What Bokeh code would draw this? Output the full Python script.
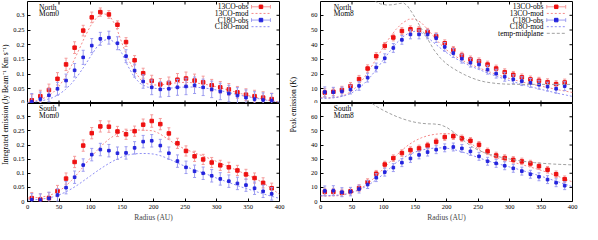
import math
from bokeh.plotting import figure
from bokeh.models import Range1d, LinearAxis, FixedTicker, CustomJSTickFormatter, Label
from bokeh.layouts import row, column
from bokeh.embed import file_html
from bokeh.resources import INLINE

FONT = "Liberation Serif"

# ---------------- data ----------------
radius = [6.8, 20.4, 34.0, 47.6, 61.2, 74.8, 88.4, 102.0, 115.6, 129.2, 142.8, 156.4, 170.0,
          183.6, 197.2, 210.8, 224.4, 238.0, 251.6, 265.2, 278.8, 292.4, 306.0, 319.6, 333.2,
          346.8, 360.4, 374.0, 387.6]

# North, Mom0
n0_13co = [0.011, 0.025, 0.046, 0.084, 0.133, 0.190, 0.248, 0.293, 0.311, 0.303, 0.268, 0.209, 0.147,
           0.103, 0.077, 0.065, 0.070, 0.081, 0.085, 0.078, 0.072, 0.062, 0.055, 0.048, 0.038,
           0.030, 0.025, 0.020, 0.015]
n0_13co_err = [0.020, 0.020, 0.020, 0.021, 0.021, 0.020, 0.018, 0.018, 0.014, 0.013, 0.013, 0.015, 0.016,
               0.017, 0.019, 0.020, 0.020, 0.021, 0.022, 0.022, 0.021, 0.020, 0.020, 0.020, 0.020,
               0.020, 0.020, 0.020, 0.020]
n0_c18o = [0.006, 0.015, 0.028, 0.050, 0.078, 0.113, 0.157, 0.197, 0.220, 0.224, 0.205, 0.161, 0.112,
           0.075, 0.055, 0.048, 0.050, 0.055, 0.058, 0.062, 0.055, 0.048, 0.041, 0.034, 0.027,
           0.020, 0.015, 0.012, 0.010]
n0_c18o_err = [0.028, 0.024, 0.022, 0.022, 0.022, 0.023, 0.024, 0.024, 0.022, 0.022, 0.022, 0.022, 0.022,
               0.023, 0.025, 0.026, 0.026, 0.027, 0.028, 0.028, 0.028, 0.028, 0.028, 0.028, 0.027,
               0.026, 0.025, 0.024, 0.024]

# South, Mom0
s0_13co = [0.012, 0.007, 0.012, 0.037, 0.081, 0.140, 0.198, 0.242, 0.266, 0.265, 0.248, 0.238, 0.249,
           0.272, 0.285, 0.274, 0.241, 0.206, 0.179, 0.160, 0.149, 0.138, 0.128, 0.121, 0.110,
           0.096, 0.083, 0.066, 0.047]
s0_13co_err = [0.020, 0.020, 0.020, 0.020, 0.020, 0.020, 0.020, 0.020, 0.020, 0.020, 0.018, 0.018, 0.018,
               0.020, 0.022, 0.020, 0.020, 0.018, 0.018, 0.018, 0.018, 0.018, 0.018, 0.018, 0.018,
               0.018, 0.018, 0.018, 0.018]
s0_c18o = [0.006, 0.005, 0.011, 0.023, 0.049, 0.086, 0.129, 0.166, 0.184, 0.180, 0.171, 0.172, 0.190,
           0.212, 0.215, 0.198, 0.171, 0.143, 0.121, 0.107, 0.100, 0.091, 0.080, 0.072, 0.064,
           0.058, 0.047, 0.036, 0.027]
s0_c18o_err = [0.022, 0.022, 0.022, 0.022, 0.022, 0.022, 0.022, 0.022, 0.022, 0.022, 0.022, 0.022, 0.022,
               0.022, 0.022, 0.022, 0.022, 0.022, 0.022, 0.022, 0.022, 0.022, 0.022, 0.022, 0.022,
               0.022, 0.022, 0.022, 0.022]

# North, Mom8
n8_13co = [7.4, 8.0, 9.2, 11.8, 16.6, 23.8, 32.2, 39.2, 44.9, 49.3, 50.5, 50.0, 48.8,
           45.8, 41.0, 36.5, 32.6, 30.0, 28.7, 26.5, 23.8, 21.3, 19.5, 17.8, 16.4,
           15.5, 14.5, 13.2, 14.3]
n8_13co_err = [2.6, 2.6, 2.5, 2.5, 2.5, 2.5, 2.4, 2.3, 2.3, 2.3, 2.3, 2.3, 2.3,
               2.3, 2.3, 2.3, 2.3, 2.3, 2.3, 2.3, 2.3, 2.3, 2.3, 2.3, 2.3,
               2.3, 2.3, 2.3, 2.3]
n8_c18o = [7.8, 7.7, 8.2, 9.5, 12.0, 17.6, 24.5, 30.8, 37.8, 43.3, 47.0, 47.0, 47.0,
           44.5, 38.5, 34.3, 30.5, 27.8, 26.5, 23.0, 20.3, 18.2, 16.5, 15.2, 14.0,
           12.8, 11.5, 10.0, 11.8]
n8_c18o_err = [3.5, 3.3, 3.0, 3.0, 3.0, 3.0, 3.0, 3.0, 3.0, 3.0, 3.0, 3.0, 3.0,
               3.0, 3.0, 3.0, 3.0, 3.0, 3.0, 3.0, 3.0, 3.0, 3.0, 3.0, 3.0,
               3.0, 3.0, 3.0, 3.0]

# South, Mom8
s8_13co = [6.8, 6.8, 6.2, 7.2, 9.5, 13.7, 19.7, 26.2, 30.7, 34.3, 36.4, 37.6, 39.6,
           42.4, 45.6, 46.2, 44.7, 43.0, 40.2, 35.5, 32.6, 30.8, 29.5, 28.4, 26.9,
           25.0, 22.5, 19.3, 15.8]
s8_13co_err = [2.5, 2.5, 2.5, 2.5, 2.4, 2.4, 2.3, 2.3, 2.3, 2.3, 2.3, 2.3, 2.3,
               2.3, 2.3, 2.3, 2.3, 2.3, 2.3, 2.3, 2.3, 2.3, 2.3, 2.3, 2.3,
               2.3, 2.3, 2.3, 2.3]
s8_c18o = [7.5, 7.7, 6.6, 7.0, 8.8, 12.0, 16.9, 20.8, 24.0, 27.5, 30.5, 33.0, 35.0,
           36.7, 38.0, 38.6, 37.6, 35.5, 32.0, 28.5, 27.0, 25.3, 23.5, 21.5, 19.3,
           17.5, 15.5, 13.3, 11.2]
s8_c18o_err = [3.5, 3.5, 3.2, 3.0, 2.8, 2.8, 2.8, 2.8, 2.8, 2.8, 2.8, 2.8, 2.8,
               2.8, 2.8, 2.8, 2.8, 2.8, 2.8, 2.8, 2.8, 2.8, 2.8, 2.8, 2.8,
               2.8, 2.8, 2.8, 2.8]

# models
mod_radius = [0, 10, 20, 30, 40, 50, 60, 70, 80, 90, 100, 110, 120, 130, 140, 150, 160, 170, 180, 190,
              200, 210, 220, 230, 240, 250, 260, 270, 280, 290, 300, 310, 320, 330, 340, 350, 360,
              370, 380, 390, 400]
n0_13co_mod = [0.004, 0.007, 0.013, 0.022, 0.036, 0.058, 0.090, 0.130, 0.175, 0.222, 0.264, 0.293, 0.306,
               0.300, 0.265, 0.205, 0.150, 0.110, 0.080, 0.067, 0.063, 0.063, 0.066, 0.069, 0.071,
               0.072, 0.071, 0.069, 0.066, 0.062, 0.057, 0.051, 0.045, 0.039, 0.033, 0.027, 0.022,
               0.017, 0.012, 0.008, 0.005]
n0_c18o_mod = [0.003, 0.005, 0.008, 0.013, 0.020, 0.031, 0.047, 0.068, 0.095, 0.126, 0.160, 0.192, 0.214,
               0.220, 0.205, 0.170, 0.125, 0.088, 0.066, 0.056, 0.052, 0.050, 0.051, 0.053, 0.055,
               0.056, 0.056, 0.055, 0.053, 0.050, 0.046, 0.042, 0.037, 0.032, 0.027, 0.023, 0.019,
               0.015, 0.011, 0.008, 0.005]
s0_13co_mod = [0.012, 0.013, 0.015, 0.019, 0.026, 0.037, 0.053, 0.075, 0.100, 0.127, 0.155, 0.180, 0.203,
               0.222, 0.237, 0.247, 0.252, 0.253, 0.253, 0.252, 0.250, 0.240, 0.225, 0.210, 0.197,
               0.185, 0.177, 0.168, 0.160, 0.151, 0.142, 0.132, 0.122, 0.113, 0.103, 0.093, 0.083,
               0.071, 0.057, 0.042, 0.025]
s0_c18o_mod = [0.005, 0.006, 0.008, 0.011, 0.016, 0.023, 0.033, 0.045, 0.059, 0.075, 0.091, 0.107, 0.122,
               0.136, 0.148, 0.158, 0.165, 0.169, 0.170, 0.170, 0.168, 0.163, 0.155, 0.145, 0.134,
               0.125, 0.116, 0.108, 0.100, 0.092, 0.083, 0.075, 0.067, 0.059, 0.051, 0.044, 0.037,
               0.030, 0.023, 0.017, 0.011]
n8_13co_mod = [4.0, 3.9, 4.0, 4.6, 6.0, 8.5, 12.5, 18.0, 24.5, 31.5, 38.5, 45.0, 50.5,
               54.8, 57.3, 57.5, 55.0, 50.5, 45.5, 40.5, 36.5, 33.3, 30.6, 28.3, 26.3,
               24.5, 22.8, 21.2, 19.7, 18.3, 17.0, 15.8, 14.7, 13.7, 12.7, 11.8, 10.9,
               10.0, 9.1, 8.3, 7.5]
n8_c18o_mod = [3.5, 3.5, 3.8, 4.4, 5.5, 7.3, 10.0, 13.8, 18.5, 24.0, 29.8, 35.5, 40.8,
               45.0, 48.0, 49.2, 48.2, 45.0, 41.3, 37.8, 34.6, 31.8, 29.3, 27.1, 25.2,
               23.4, 21.7, 20.0, 18.4, 17.0, 15.6, 14.3, 13.0, 11.8, 10.7, 9.6, 8.6,
               7.6, 6.6, 5.7, 4.8]
s8_13co_mod = [3.8, 3.8, 3.9, 4.2, 5.0, 6.3, 8.3, 11.0, 14.5, 18.7, 23.2, 28.0, 32.5,
               36.6, 40.2, 43.0, 45.1, 46.6, 47.5, 48.0, 48.1, 47.8, 46.6, 44.2, 40.8,
               37.3, 34.5, 32.5, 31.0, 29.7, 28.5, 27.3, 26.1, 24.8, 23.5, 22.1, 20.6,
               19.0, 17.3, 15.6, 13.8]
s8_c18o_mod = [4.2, 4.2, 4.3, 4.6, 5.3, 6.4, 8.0, 10.2, 12.8, 15.8, 19.5, 23.5, 27.5,
               30.6, 33.0, 35.0, 36.4, 37.3, 37.8, 38.0, 37.8, 37.0, 35.8, 34.4, 32.8,
               31.2, 29.6, 28.2, 26.9, 25.7, 24.5, 23.3, 22.0, 20.7, 19.3, 17.9, 16.5,
               15.0, 13.5, 12.0, 10.4]

# midplane temperature
temp_n_radius = [80, 87, 95, 105, 115, 125, 132, 138, 145, 150, 160, 170, 180, 190, 200, 210, 220,
                 230, 240, 250, 260, 270, 280, 290, 300, 320, 340, 360, 380, 400]
temp_n = [72.0, 69.5, 67.8, 67.0, 67.2, 68.0, 68.4, 66.5, 62.0, 58.5, 51.0, 44.0, 36.5, 31.0, 27.0,
          24.0, 21.5, 19.3, 17.4, 15.9, 14.8, 14.1, 13.6, 13.3, 13.1, 13.0, 13.0, 13.0, 13.0, 13.0]
temp_s_radius = [70, 80, 90, 100, 110, 120, 130, 140, 150, 160, 170, 180, 190, 200, 210, 220, 230,
                 240, 250, 260, 270, 280, 290, 300, 310, 320, 330, 340, 350, 360, 370, 380, 390, 400]
temp_s = [74.0, 70.0, 67.0, 64.5, 62.3, 60.3, 58.6, 57.2, 56.1, 55.4, 55.0, 54.9, 54.4, 52.6, 49.6,
          46.0, 42.2, 38.9, 36.5, 34.6, 33.2, 32.0, 31.0, 30.1, 29.3, 28.6, 28.0, 27.5, 27.1, 26.8,
          26.5, 26.3, 26.1, 25.9]

x_ticks = [0, 50, 100, 150, 200, 250, 300, 350, 400]
mom0_ticks = [0, 0.05, 0.1, 0.15, 0.2, 0.25, 0.3]
mom8_ticks = [0, 10, 20, 30, 40, 50, 60]

# ---------------- styles ----------------
RED, RED_ERR, RED_MOD = "#ee1111", "#f49a9a", "#f48a8a"
BLUE, BLUE_ERR, BLUE_MOD = "#2424dd", "#9c9cf0", "#8c8cf4"
GRAY = "#a0a0a0"
MOD_DASH = "2 2"
TEMP_DASH = "3 2"
TICK_FS = "6.5px"
TXT_FS = "7.5px"
FRAME_W = 252
FRAME_H = 102
TICK_LEN = 3
LEG_Y = [0.948, 0.883, 0.818, 0.753, 0.688]


def style_axis(ax, ticks, fmt=None):
    ax.ticker = FixedTicker(ticks=ticks)
    ax.major_tick_in = TICK_LEN
    ax.major_tick_out = 0
    ax.minor_tick_in = 0
    ax.minor_tick_out = 0
    ax.axis_line_color = None
    ax.major_tick_line_color = "black"
    ax.major_label_text_font = FONT
    ax.major_label_text_color = "black"
    ax.major_label_text_font_size = TICK_FS
    ax.major_label_standoff = 3
    if fmt is not None:
        ax.formatter = fmt


def make_panel(bl, br, bt, bb, yend, yticks, show_x, fmt):
    h = bt + FRAME_H + bb
    w = bl + FRAME_W + br
    p = figure(width=w, height=h, x_range=Range1d(0, 400), y_range=Range1d(0, yend),
               output_backend="svg", toolbar_location=None,
               x_axis_location=None, y_axis_location=None,
               min_border_left=bl, min_border_right=br, min_border_top=bt, min_border_bottom=bb)
    p.grid.visible = False
    p.outline_line_color = "black"
    p.outline_line_width = 1
    p.background_fill_color = "white"
    p.border_fill_color = "white"
    p.extra_x_ranges = {"u": Range1d(0, 1)}
    p.extra_y_ranges = {"u": Range1d(0, 1)}
    left = LinearAxis()
    style_axis(left, yticks, fmt)
    p.add_layout(left, "left")
    # mirrored tick marks (no labels) on the right side
    dx = TICK_LEN / FRAME_W
    dy = TICK_LEN / FRAME_H
    p.segment(x0=[1 - dx] * len(yticks), x1=[1] * len(yticks), y0=yticks, y1=yticks,
              x_range_name="u", line_color="black", line_width=1)
    # top tick marks
    p.segment(x0=x_ticks, x1=x_ticks, y0=[1 - dy] * len(x_ticks), y1=[1] * len(x_ticks),
              y_range_name="u", line_color="black", line_width=1)
    if show_x:
        bottom = LinearAxis()
        style_axis(bottom, x_ticks)
        bottom.axis_label = "Radius (AU)"
        bottom.axis_label_text_font = FONT
        bottom.axis_label_text_font_size = TXT_FS
        bottom.axis_label_text_font_style = "normal"
        bottom.axis_label_standoff = 1
        p.add_layout(bottom, "below")
    else:
        p.segment(x0=x_ticks, x1=x_ticks, y0=[0] * len(x_ticks), y1=[dy] * len(x_ticks),
                  y_range_name="u", line_color="black", line_width=1)
    return p


def draw_obs(p, y, err, color, ecolor, size):
    lo = [a - b for a, b in zip(y, err)]
    hi = [a + b for a, b in zip(y, err)]
    p.segment(x0=radius, y0=lo, x1=radius, y1=hi, line_color=ecolor, line_width=1)
    p.scatter(x=radius + radius, y=lo + hi, marker="dash", size=3, line_color=ecolor, line_width=1)
    p.scatter(x=radius, y=y, marker="square", size=size, fill_color=color, line_color=color)


def draw_model(p, x, y, color, dash):
    p.line(x=x, y=y, line_color=color, line_width=1, line_dash=dash)


def add_text(p, x, y, text, align):
    p.add_layout(Label(x=x, y=y, x_range_name="u", y_range_name="u", text=text,
                       text_align=align, text_baseline="middle", text_font=FONT,
                       text_font_size=TXT_FS, text_color="black"))


def add_legend(p, entries, xt, x0, x1):
    xm = (x0 + x1) / 2.0
    for i, (label, kind, c, ce) in enumerate(entries):
        y = LEG_Y[i]
        add_text(p, xt, y, label, "right")
        if kind == "obs":
            p.line(x=[x0, x1], y=[y, y], line_color=ce, line_width=1, x_range_name="u", y_range_name="u")
            p.segment(x0=[x0, x1], y0=[y - 0.018, y - 0.018], x1=[x0, x1], y1=[y + 0.018, y + 0.018],
                      line_color=ce, x_range_name="u", y_range_name="u")
            p.scatter(x=[xm], y=[y], marker="square", size=3.5, fill_color=c, line_color=c,
                      x_range_name="u", y_range_name="u")
        elif kind == "mod":
            p.line(x=[x0, x1], y=[y, y], line_color=c, line_width=1, line_dash=MOD_DASH,
                   x_range_name="u", y_range_name="u")
        else:
            p.line(x=[x0, x1], y=[y, y], line_color=c, line_width=1, line_dash=TEMP_DASH,
                   x_range_name="u", y_range_name="u")


mom0_fmt = CustomJSTickFormatter(code="return String(Math.round(tick*100)/100);")

# ---------------- panels ----------------
LB, RB_L = 17, 6
LB_R, RB_R = 13, 10
TOP_B, BOT_B = 1, 19
Y0_END, Y8_END = 0.347, 69.4

tl = make_panel(LB, RB_L, TOP_B, 0, Y0_END, mom0_ticks, False, mom0_fmt)
bl = make_panel(LB, RB_L, 0, BOT_B, Y0_END, mom0_ticks, True, mom0_fmt)
tr = make_panel(LB_R, RB_R, TOP_B, 0, Y8_END, mom8_ticks, False, None)
br = make_panel(LB_R, RB_R, 0, BOT_B, Y8_END, mom8_ticks, True, None)

for p, a13, e13, a18, e18, m13, m18 in [
        (tl, n0_13co, n0_13co_err, n0_c18o, n0_c18o_err, n0_13co_mod, n0_c18o_mod),
        (bl, s0_13co, s0_13co_err, s0_c18o, s0_c18o_err, s0_13co_mod, s0_c18o_mod),
        (tr, n8_13co, n8_13co_err, n8_c18o, n8_c18o_err, n8_13co_mod, n8_c18o_mod),
        (br, s8_13co, s8_13co_err, s8_c18o, s8_c18o_err, s8_13co_mod, s8_c18o_mod)]:
    draw_model(p, mod_radius, m13, RED_MOD, MOD_DASH)
    draw_model(p, mod_radius, m18, BLUE_MOD, MOD_DASH)
    draw_obs(p, a13, e13, RED, RED_ERR, 3.5)
    draw_obs(p, a18, e18, BLUE, BLUE_ERR, 2.6)

draw_model(tr, temp_n_radius, temp_n, GRAY, TEMP_DASH)
draw_model(br, temp_s_radius, temp_s, GRAY, TEMP_DASH)

legend_rows = [("13CO-obs", "obs", RED, RED_ERR), ("13CO-mod", "mod", RED_MOD, RED_MOD),
               ("C18O-obs", "obs", BLUE, BLUE_ERR), ("C18O-mod", "mod", BLUE_MOD, BLUE_MOD)]
add_legend(tl, legend_rows, 0.877, 0.889, 0.964)
add_legend(tr, legend_rows + [("temp-midplane", "temp", GRAY, GRAY)], 0.885, 0.898, 0.973)

for p, a, b in [(tl, "North", "Mom0"), (bl, "South", "Mom0"), (tr, "North", "Mom8"), (br, "South", "Mom8")]:
    xl = 0.046 if p in (tl, bl) else 0.053
    add_text(p, xl, 0.945, a, "left")
    add_text(p, xl, 0.880, b, "left")


def ylabel_fig(width, text, xfrac, yfrac):
    f = figure(width=width, height=TOP_B + 2 * FRAME_H + BOT_B, x_range=Range1d(0, 1), y_range=Range1d(0, 1),
               output_backend="svg", toolbar_location=None, x_axis_location=None, y_axis_location=None,
               min_border=0)
    f.grid.visible = False
    f.outline_line_color = None
    f.background_fill_color = "white"
    f.border_fill_color = "white"
    f.add_layout(Label(x=xfrac, y=yfrac, text=text, angle=math.pi / 2, text_align="center",
                       text_baseline="middle", text_font=FONT, text_font_size=TXT_FS, text_color="black"))
    return f


ylab_l = ylabel_fig(10, "Integrated emission (Jy Beam\u207b\u00b9 Km s\u207b\u00b9)", 0.5, 0.535)
ylab_r = ylabel_fig(22, "Peak emission (K)", 0.35, 0.535)

layout = row(ylab_l, column(tl, bl), ylab_r, column(tr, br))

open("out.html", "w").write(file_html(layout, INLINE))
